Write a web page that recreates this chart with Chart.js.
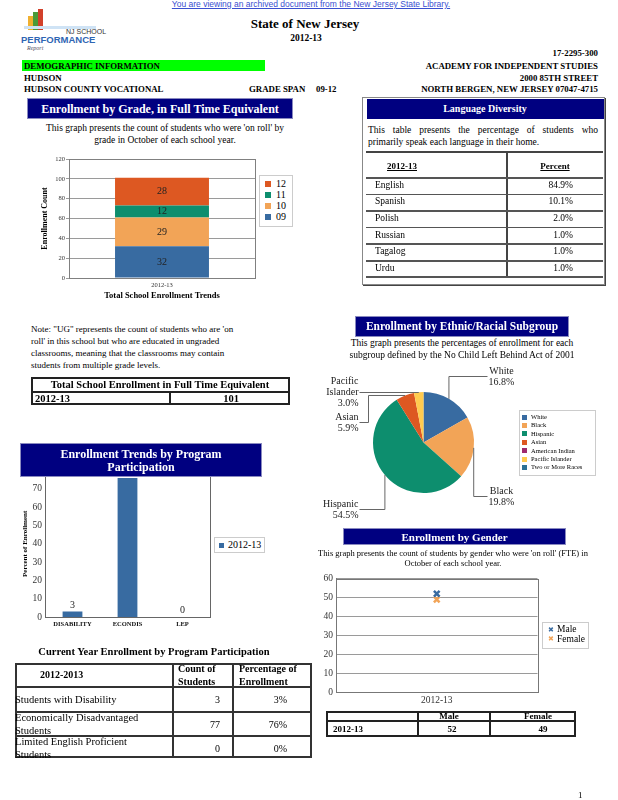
<!DOCTYPE html>
<html><head><meta charset="utf-8">
<script src="https://cdn.jsdelivr.net/npm/chart.js@4.4.1/dist/chart.umd.min.js"></script>
<style>
body{margin:0;width:618px;height:800px;position:relative;background:#fff;font-family:"Liberation Serif","Times New Roman",serif;color:#000;overflow:hidden}
.a{position:absolute;white-space:nowrap}
.r{position:absolute;box-sizing:border-box}
canvas{position:absolute;z-index:1}
</style></head>
<body>
<canvas id="cGrade" width="240" height="152" style="left:20px;top:150px"></canvas>
<canvas id="cEth" width="200" height="165" style="left:320px;top:360px"></canvas>
<canvas id="cProg" width="205" height="168" style="left:10px;top:462px"></canvas>
<canvas id="cGender" width="234" height="137" style="left:310px;top:570px"></canvas>
<script>
// ---------------- DATA ----------------
const gradeYears = ['2012-13'];
const gradeLevels = ['09', '10', '11', '12'];
const grade09 = [32];
const grade10 = [29];
const grade11 = [12];
const grade12 = [28];
const gradeTicks = [0, 20, 40, 60, 80, 100, 120];

const languages = ['English', 'Spanish', 'Polish', 'Russian', 'Tagalog', 'Urdu'];
const languagePct = ['84.9%', '10.1%', '2.0%', '1.0%', '1.0%', '1.0%'];

const ethnicLabels = ['White', 'Black', 'Hispanic', 'Asian', 'American Indian', 'Pacific Islander', 'Two or More Races'];
const ethnicValues = [16.8, 19.8, 54.5, 5.9, 0, 3.0, 0];

const programCategories = ['DISABILITY', 'ECONDIS', 'LEP'];
const programPct = [3, 76, 0];
const programTicks = [0, 10, 20, 30, 40, 50, 60, 70];

const programRows = ['Students with Disability', 'Economically Disadvantaged Students', 'Limited English Proficient Students'];
const programCounts = [3, 77, 0];
const programPctText = ['3%', '76%', '0%'];

const genderYears = ['2012-13'];
const maleCounts = [52];
const femaleCounts = [49];
const genderTicks = [0, 10, 20, 30, 40, 50, 60];

const totalEnrollment = 101;

// ---------------- STYLE ----------------
const SERIF = '"Liberation Serif","Times New Roman",serif';
const COL = {blue:'#386BA1', orange:'#F2A457', green:'#0D8E6E', red:'#DD5822', purple:'#9E2A6E', yellow:'#FFCB4F', teal:'#2D7194'};
const NAVY = '#000080';

function T(txt, x, y, size, o = {}) {
  const d = document.createElement('div');
  d.className = 'a';
  d.textContent = txt;
  d.style.fontSize = size + 'px';
  d.style.lineHeight = size + 'px';
  d.style.top = (y - size / 2) + 'px';
  if (o.bold) d.style.fontWeight = 'bold';
  if (o.italic) d.style.fontStyle = 'italic';
  if (o.color) d.style.color = o.color;
  if (o.font) d.style.fontFamily = o.font;
  if (o.u) d.style.textDecoration = 'underline';
  if (o.align === 'center') { d.style.left = (x - 300) + 'px'; d.style.width = '600px'; d.style.textAlign = 'center'; }
  else if (o.align === 'right') { d.style.right = (618 - x) + 'px'; }
  else if (o.align === 'justify') { d.style.left = x + 'px'; d.style.width = o.width + 'px'; d.style.textAlign = 'justify'; d.style.textAlignLast = 'justify'; }
  else d.style.left = x + 'px';
  d.style.zIndex = o.z || 3;
  document.body.appendChild(d);
  return d;
}
function R(x, y, w, h, o = {}) {
  const d = document.createElement('div');
  d.className = 'r';
  Object.assign(d.style, {left: x + 'px', top: y + 'px', width: w + 'px', height: h + 'px', zIndex: o.z || 2});
  if (o.bg) d.style.background = o.bg;
  if (o.border) d.style.border = o.border;
  if (o.shadow) d.style.boxShadow = o.shadow;
  document.body.appendChild(d);
  return d;
}
function titleBox(x, y, w, h, lines, size) {
  R(x, y, w, h, {bg: NAVY, border: '1px solid #8a8ac0', z: 4});
  const lh = size * 1.15;
  lines.forEach((t, i) => T(t, x + w / 2, y + h / 2 - (lines.length - 1) * lh / 2 + i * lh + 0.5, size, {bold: true, color: '#fff', align: 'center', z: 5}));
}
function swatch(x, y, s, color) { R(x, y - s / 2, s, s, {bg: color, z: 3}); }

// ---------------- HEADER ----------------
T('You are viewing an archived document from the New Jersey State Library.', 311, 4, 8.5, {font: '"Liberation Sans",Arial,sans-serif', color: '#3a4fd0', u: true, align: 'center'});
// logo
R(28, 16, 5, 14, {bg: '#f0b030'}); R(33, 12, 5, 18, {bg: '#4a9a3a'}); R(38, 9, 5, 21, {bg: '#d2402a'});
R(24, 26, 72, 3, {bg: '#cfe3f5'});
T('NJ SCHOOL', 66, 31, 7, {font: '"Liberation Sans",Arial,sans-serif', color: '#333'});
T('PERFORMANCE', 21, 40, 9.5, {font: '"Liberation Sans",Arial,sans-serif', bold: true, color: '#2f66b3'});
T('Report', 27, 48, 6, {italic: true, color: '#556'});

T('State of New Jersey', 305, 23, 13, {bold: true, align: 'center'});
T('2012-13', 306, 39, 9.5, {bold: true, align: 'center'});
T('17-2295-300', 598, 53, 8.8, {bold: true, align: 'right'});
R(22, 60, 243, 11, {bg: '#00ff00'});
T('DEMOGRAPHIC INFORMATION', 24, 66, 8.8, {bold: true});
T('ACADEMY FOR INDEPENDENT STUDIES', 598, 66, 8.8, {bold: true, align: 'right'});
T('HUDSON', 24, 78, 8.8, {bold: true});
T('2000 85TH STREET', 598, 78, 8.8, {bold: true, align: 'right'});
T('HUDSON COUNTY VOCATIONAL', 24, 89, 8.8, {bold: true});
T('GRADE SPAN', 249, 89, 8.8, {bold: true});
T('09-12', 316, 89, 8.8, {bold: true});
T('NORTH BERGEN, NEW JERSEY 07047-4715', 598, 89, 8.8, {bold: true, align: 'right'});

// ---------------- GRADE SECTION ----------------
titleBox(27, 98, 266, 21, ['Enrollment by Grade, in Full Time Equivalent'], 12);
T("This graph presents the count of students who were 'on roll' by", 165, 129, 9.5, {align: 'center'});
T('grade in October of each school year.', 165, 141, 9.5, {align: 'center'});
R(259, 175, 34, 52, {border: '1px solid #ccc', bg: '#fff', z: 2});
const gradeColors = [COL.blue, COL.orange, COL.green, COL.red];
[3, 2, 1, 0].forEach((gi, k) => { const yy = 183.5 + k * 11.3; swatch(265, yy, 6, gradeColors[gi]); T(gradeLevels[gi], 276, yy, 10); });

// Note + total table
T('Note: "UG" represents the count of students who are \'on', 31, 329, 9);
T("roll' in this school but who are educated in ungraded", 31, 341, 9);
T('classrooms, meaning that the classrooms may contain', 31, 353, 9);
T('students from multiple grade levels.', 31, 365, 9);
R(31, 377, 259, 28, {border: '2px solid #222'});
R(31, 391, 259, 2, {bg: '#222'});
R(169, 391, 2, 14, {bg: '#222'});
T('Total School Enrollment in Full Time Equivalent', 160, 385, 10.5, {bold: true, align: 'center'});
T('2012-13', 35, 399, 10.5, {bold: true});
T(String(totalEnrollment), 231, 399, 10.5, {bold: true, align: 'center'});

// ---------------- LANGUAGE ----------------
R(362, 97, 243, 188, {border: '1px solid #888', shadow: '1px 1px 0 #444', z: 1});
R(367, 99, 237, 20, {bg: NAVY, z: 4});
T('Language Diversity', 485, 109, 10, {bold: true, color: '#fff', align: 'center', z: 5});
T('This table presents the percentage of students who', 368, 131, 9.5, {align: 'justify', width: 230});
T('primarily speak each language in their home.', 368, 142.5, 9.5);
R(366, 151, 237, 2, {bg: '#444'});
R(506, 152, 2, 126, {bg: '#444'});
T('2012-13', 402, 166, 9, {bold: true, u: true, align: 'center'});
T('Percent', 555, 166, 9, {bold: true, u: true, align: 'center'});
languages.forEach((lang, i) => {
  R(366, 177 + i * 16.6, 237, 1.5, {bg: '#555'});
  const yy = 185.5 + i * 16.6;
  T(lang, 375, yy, 9.5);
  T(languagePct[i], 573, yy, 9.5, {align: 'right'});
});
R(366, 176.5 + 6 * 16.6, 237, 1.5, {bg: '#555'});

// ---------------- ETHNIC ----------------
titleBox(355, 316, 214, 21, ['Enrollment by Ethnic/Racial Subgroup'], 11.5);
T('This graph presents the percentages of enrollment for each', 462, 344, 9.5, {align: 'center'});
T('subgroup defined by the No Child Left Behind Act of 2001', 462, 356, 9.5, {align: 'center'});
const ethColors = [COL.blue, COL.orange, COL.green, COL.red, COL.purple, COL.yellow, COL.teal];
R(519, 410, 77, 66, {border: '1px solid #ccc', bg: '#fff', z: 2});
ethnicLabels.forEach((l, i) => { const yy = 417 + i * 8.45; swatch(522, yy, 5, ethColors[i]); T(l, 531, yy, 6.5); });

// ---------------- PROGRAM ----------------
titleBox(20, 443, 242, 34, ['Enrollment Trends by Program', 'Participation'], 12);
R(214, 537, 51, 16, {border: '1px solid #ccc', bg: '#fff', z: 2});
swatch(219, 545, 5, COL.blue);
T('2012-13', 228, 545, 10);

T('Current Year Enrollment by Program Participation', 154, 652, 10.5, {bold: true, align: 'center'});
R(15, 663, 297, 95, {border: '2px solid #333'});
R(172, 663, 2, 95, {bg: '#333'});
R(232, 663, 2, 95, {bg: '#333'});
R(15, 686, 297, 2, {bg: '#333'});
R(15, 711, 297, 2, {bg: '#333'});
R(15, 735, 297, 2, {bg: '#333'});
T('2012-2013', 40, 675, 10, {bold: true});
T('Count of', 178, 669, 10, {bold: true});
T('Students', 178, 682, 10, {bold: true});
T('Percentage of', 239, 669, 10, {bold: true});
T('Enrollment', 239, 682, 10, {bold: true});
programRows.forEach((name, i) => {
  const top = 688 + i * 24.5;
  const words = name.split(' ');
  if (i === 0) T(name, 15, top + 12, 10.5);
  else {
    T(words.slice(0, -1).join(' '), 15, top + 5.5, 10.5);
    T(words[words.length - 1], 15, top + 18.5, 10.5);
  }
  T(String(programCounts[i]), 220, top + 12, 10, {align: 'right'});
  T(programPctText[i], 287, top + 12, 10, {align: 'right'});
});

// ---------------- GENDER ----------------
titleBox(343, 528, 223, 17, ['Enrollment by Gender'], 11);
T("This graph presents the count of students by gender who were 'on roll' (FTE) in", 453, 553, 8.5, {align: 'center'});
T('October of each school year.', 453, 563, 8.5, {align: 'center'});
R(542, 622, 47, 27, {border: '1px solid #ccc', bg: '#fff', z: 2});
T('\u2716', 548, 630, 7, {font: '"DejaVu Sans",sans-serif', color: COL.blue});
T('Male', 557, 630, 9.5);
T('\u2716', 548, 639.5, 7, {font: '"DejaVu Sans",sans-serif', color: COL.orange});
T('Female', 557, 639.5, 9.5);
R(326, 711, 250, 26, {border: '2px solid #222'});
R(326, 720, 250, 2, {bg: '#222'});
R(417, 711, 2, 26, {bg: '#222'});
R(489, 711, 2, 26, {bg: '#222'});
T('Male', 449, 716, 9, {bold: true, align: 'center'});
T('Female', 538, 716, 9, {bold: true, align: 'center'});
T(genderYears[0], 333, 729, 9, {bold: true});
T(String(maleCounts[0]), 452, 729, 9, {bold: true, align: 'center'});
T(String(femaleCounts[0]), 543, 729, 9, {bold: true, align: 'center'});

T('1', 578, 795, 9);

// ---------------- PLUGINS ----------------
const framePlugin = {
  id: 'frame',
  afterDraw(chart, args, o) {
    const a = chart.chartArea, ctx = chart.ctx;
    ctx.save(); ctx.strokeStyle = o.color || '#808080'; ctx.lineWidth = 1;
    ctx.strokeRect(Math.round(a.left) + 0.5, Math.round(a.top) + 0.5, Math.round(a.right - a.left), Math.round(a.bottom - a.top));
    ctx.restore();
  }
};
const barLabels = {
  id: 'barLabels',
  afterDatasetsDraw(chart, args, o) {
    const ctx = chart.ctx;
    ctx.save(); ctx.font = o.font; ctx.fillStyle = o.color; ctx.textAlign = 'center';
    chart.data.datasets.forEach((ds, i) => {
      chart.getDatasetMeta(i).data.forEach((el, j) => {
        const v = ds.data[j]; if (v == null) return;
        const p = el.getProps(['x', 'y', 'base'], true);
        if (o.mode === 'center') { ctx.textBaseline = 'middle'; ctx.fillText(String(v), p.x, (p.y + p.base) / 2); }
        else { ctx.textBaseline = 'bottom'; ctx.fillText(String(v), p.x, p.y - o.offset); }
      });
    });
    ctx.restore();
  }
};
const pieLeader = {
  id: 'pieLeader',
  afterDatasetsDraw(chart, args, o) {
    const ctx = chart.ctx, meta = chart.getDatasetMeta(0);
    const labels = chart.data.labels, data = chart.data.datasets[0].data;
    ctx.save(); ctx.strokeStyle = o.lineColor; ctx.lineWidth = 1; ctx.font = o.font; ctx.fillStyle = o.color; ctx.textBaseline = 'middle';
    meta.data.forEach((arc, i) => {
      const v = data[i]; if (!v) return;
      const L = o.layout[labels[i]]; if (!L) return;
      const p = arc.getProps(['x', 'y', 'startAngle', 'endAngle', 'outerRadius'], true);
      const mid = (p.startAngle + p.endAngle) / 2;
      const sx = p.x + Math.cos(mid) * p.outerRadius, sy = p.y + Math.sin(mid) * p.outerRadius;
      const ex = p.x + L.ex, ey = p.y + L.ey;
      ctx.beginPath(); ctx.moveTo(sx, sy);
      if (L.kx !== undefined) { ctx.lineTo(p.x + L.kx, sy); ctx.lineTo(p.x + L.kx, ey); }
      else ctx.lineTo(sx, ey);
      ctx.lineTo(ex, ey); ctx.stroke();
      const lines = (L.split ? labels[i].split(' ') : [labels[i]]).concat([v.toFixed(1) + '%']);
      const lh = 11, y0 = ey - (lines.length - 1) * lh / 2;
      const left = L.ex < 0;
      ctx.textAlign = left ? 'right' : 'center';
      const tx = left ? ex - 1 : ex + 14;
      lines.forEach((t, k) => ctx.fillText(t, tx, y0 + k * lh));
    });
    ctx.restore();
  }
};

const base = {responsive: false, animation: false, devicePixelRatio: 1};
const tickFont = (s, b) => ({family: SERIF, size: s, weight: b ? 'bold' : 'normal'});

// ---------------- GRADE CHART ----------------
new Chart(document.getElementById('cGrade'), {
  type: 'bar',
  data: {labels: gradeYears, datasets: [
    {label: gradeLevels[0], data: grade09, backgroundColor: COL.blue},
    {label: gradeLevels[1], data: grade10, backgroundColor: COL.orange},
    {label: gradeLevels[2], data: grade11, backgroundColor: COL.green},
    {label: gradeLevels[3], data: grade12, backgroundColor: COL.red}
  ]},
  options: Object.assign({}, base, {
    layout: {padding: {left: 20, top: 9, right: 5, bottom: 0}},
    datasets: {bar: {categoryPercentage: 1, barPercentage: 0.505}},
    plugins: {legend: {display: false}, tooltip: {enabled: false}, frame: {color: '#808080'},
      barLabels: {mode: 'center', font: '10px ' + SERIF, color: '#222'}},
    scales: {
      x: {stacked: true, grid: {display: false, drawTicks: false}, border: {color: '#808080'},
        ticks: {font: tickFont(6.5), color: '#333', padding: 3},
        title: {display: true, text: 'Total School Enrollment Trends', font: tickFont(8.5, true), color: '#000', padding: {top: 0, bottom: 1}},
        afterFit(s) { s.height = 24; }},
      y: {stacked: true, min: 0, max: 120,
        afterBuildTicks(s) { s.ticks = gradeTicks.map(v => ({value: v})); },
        grid: {color: '#9a9a9a', tickLength: 3, drawTicks: true}, border: {color: '#808080'},
        ticks: {font: tickFont(6.5), color: '#333', padding: 1},
        title: {display: true, text: 'Enrollment Count', font: tickFont(8, true), color: '#000', padding: 0},
        afterFit(s) { s.width = 29; }}
    }
  }),
  plugins: [framePlugin, barLabels]
});

// ---------------- ETHNIC PIE ----------------
new Chart(document.getElementById('cEth'), {
  type: 'pie',
  data: {labels: ethnicLabels, datasets: [{data: ethnicValues, backgroundColor: ethColors, borderWidth: 0}]},
  options: Object.assign({}, base, {
    layout: {padding: {left: 53, right: 46, top: 32, bottom: 32}},
    plugins: {legend: {display: false}, tooltip: {enabled: false},
      pieLeader: {lineColor: '#666', color: '#222', font: '10px ' + SERIF, layout: {
        'White': {ex: 64, ey: -66},
        'Black': {ex: 64, ey: 54},
        'Hispanic': {ex: -64, ey: 67},
        'Asian': {kx: -55, ex: -64, ey: -20},
        'Pacific Islander': {ex: -64, ey: -50, split: true}
      }}}
  }),
  plugins: [pieLeader]
});

// ---------------- PROGRAM CHART ----------------
new Chart(document.getElementById('cProg'), {
  type: 'bar',
  data: {labels: programCategories, datasets: [{label: '2012-13', data: programPct, backgroundColor: COL.blue}]},
  options: Object.assign({}, base, {
    layout: {padding: {left: 11, top: 7.6, right: 5, bottom: 0}},
    datasets: {bar: {categoryPercentage: 0.8, barPercentage: 0.45}},
    plugins: {legend: {display: false}, tooltip: {enabled: false}, frame: {color: '#666'},
      barLabels: {mode: 'top', offset: 1.5, font: '10px ' + SERIF, color: '#222'}},
    scales: {
      x: {grid: {display: false, drawTicks: false}, border: {color: '#666'},
        ticks: {font: tickFont(6.5, true), color: '#111', padding: 3},
        afterFit(s) { s.height = 13; }},
      y: {min: 0, max: 80,
        afterBuildTicks(s) { s.ticks = programTicks.map(v => ({value: v})); },
        grid: {display: false, drawTicks: false}, border: {color: '#666'},
        ticks: {font: tickFont(9.5), color: '#333', padding: 3},
        title: {display: true, text: 'Percent of Enrollment', font: tickFont(7, true), color: '#000', padding: 0},
        afterFit(s) { s.width = 24; }}
    }
  }),
  plugins: [framePlugin, barLabels]
});

// ---------------- GENDER CHART ----------------
new Chart(document.getElementById('cGender'), {
  type: 'line',
  data: {labels: genderYears, datasets: [
    {label: 'Male', data: maleCounts, showLine: false, pointStyle: 'crossRot', pointRadius: 4, pointBorderWidth: 2.5, borderColor: COL.blue, backgroundColor: COL.blue},
    {label: 'Female', data: femaleCounts, showLine: false, pointStyle: 'crossRot', pointRadius: 4, pointBorderWidth: 2.5, borderColor: COL.orange, backgroundColor: COL.orange}
  ]},
  options: Object.assign({}, base, {
    layout: {padding: {left: 0, top: 7, right: 5, bottom: 0}},
    plugins: {legend: {display: false}, tooltip: {enabled: false}, frame: {color: '#777'}},
    scales: {
      x: {offset: true, grid: {display: false, drawTicks: false}, border: {color: '#777'},
        ticks: {font: tickFont(9.5), color: '#333', padding: 3},
        afterFit(s) { s.height = 15; }},
      y: {min: 0, max: 60,
        afterBuildTicks(s) { s.ticks = genderTicks.map(v => ({value: v})); },
        grid: {color: '#9a9a9a', drawTicks: false}, border: {color: '#777'},
        ticks: {font: tickFont(9.5), color: '#333', padding: 3},
        afterFit(s) { s.width = 26; }}
    }
  }),
  plugins: [framePlugin]
});
</script>
</body></html>
